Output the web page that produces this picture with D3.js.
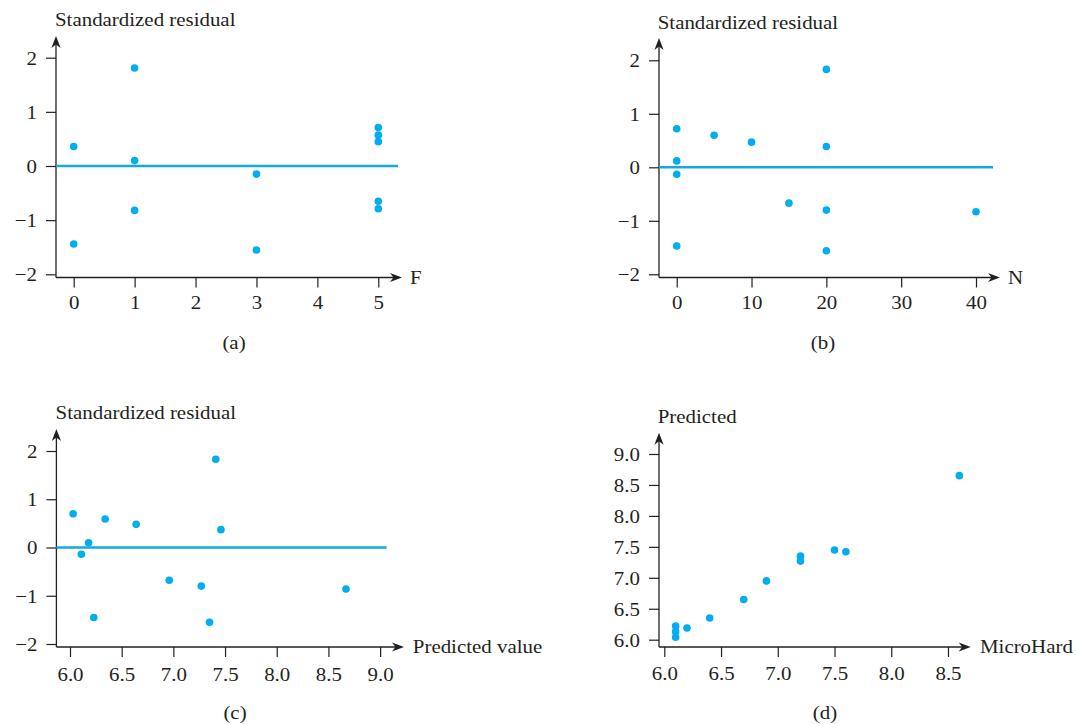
<!DOCTYPE html>
<html>
<head>
<meta charset="utf-8">
<script src="https://cdn.jsdelivr.net/npm/d3@7"></script>
<style>
  html, body { margin: 0; padding: 0; background: #ffffff; }
  svg { display: block; }
</style>
</head>
<body>
<svg id="chart" width="1077" height="724"></svg>
<script>
// ---------- data ----------
const panelAF        = [0, 0, 1, 1, 1, 3, 3, 5, 5, 5, 5, 5];
const panelAResidual = [0.36, -1.44, 1.81, 0.10, -0.82, -0.15, -1.55, 0.71, 0.57, 0.45, -0.65, -0.79];

const panelBN        = [0, 0, 0, 0, 5, 10, 15, 20, 20, 20, 20, 40];
const panelBResidual = [0.72, 0.12, -0.13, -1.47, 0.60, 0.47, -0.67, 1.83, 0.39, -0.80, -1.56, -0.83];

const panelCPredicted = [6.03, 6.11, 6.18, 6.23, 6.34, 6.64, 6.96, 7.27, 7.35, 7.41, 7.46, 8.67];
const panelCResidual  = [0.70, -0.14, 0.10, -1.45, 0.59, 0.48, -0.68, -0.80, -1.55, 1.83, 0.37, -0.86];

const panelDMicroHard = [6.1, 6.1, 6.1, 6.2, 6.4, 6.7, 6.9, 7.2, 7.2, 7.5, 7.6, 8.6];
const panelDPredicted = [6.22, 6.13, 6.04, 6.19, 6.35, 6.65, 6.95, 7.35, 7.27, 7.45, 7.42, 8.65];

const ticksA_X = [0, 1, 2, 3, 4, 5];
const ticksB_X = [0, 10, 20, 30, 40];
const ticksResidual = [-2, -1, 0, 1, 2];
const ticksC_X = [6.0, 6.5, 7.0, 7.5, 8.0, 8.5, 9.0];
const ticksD_X = [6.0, 6.5, 7.0, 7.5, 8.0, 8.5];
const ticksD_Y = [6.0, 6.5, 7.0, 7.5, 8.0, 8.5, 9.0];

const titles   = ["Standardized residual", "Standardized residual", "Standardized residual", "Predicted"];
const xLabels  = ["F", "N", "Predicted value", "MicroHard"];
const captions = ["(a)", "(b)", "(c)", "(d)"];

// ---------- style / layout ----------
const INK = "#231f20";
const DOT = "#00aeef";
const LINE = "#14a9e2";
const FONT = "'Liberation Serif', 'Times New Roman', serif";
const FS = 19;
const SX = 1.1;   // horizontal stretch of the reference typography

const svg = d3.select("#chart");

const panels = [
  { xs: panelAF, ys: panelAResidual, xDom: [0, 5], xRange: [73.7, 378.3], yDom: [-2, 2], yRange: [274.3, 57.7],
    corner: [56, 277.5], yTop: 36, xTip: 402, zeroEnd: 398, xTicks: ticksA_X, yTicks: ticksResidual,
    xFmt: d3.format("d"), yFmt: d3.format("d"), title: [55, 26], xlab: [410, 283.5], cap: [234, 349], xPad: 9, zero: true },
  { xs: panelBN, ys: panelBResidual, xDom: [0, 40], xRange: [676.7, 976], yDom: [-2, 2], yRange: [274.3, 60.3],
    corner: [659, 277.5], yTop: 38, xTip: 1000, zeroEnd: 993, xTicks: ticksB_X, yTicks: ticksResidual,
    xFmt: d3.format("d"), yFmt: d3.format("d"), title: [657.7, 29], xlab: [1008, 283.5], cap: [823, 349], xPad: 9, zero: true },
  { xs: panelCPredicted, ys: panelCResidual, xDom: [6, 9], xRange: [70, 380.1], yDom: [-2, 2], yRange: [644, 451],
    corner: [56.4, 647], yTop: 429, xTip: 404, zeroEnd: 386.6, xTicks: ticksC_X, yTicks: ticksResidual,
    xFmt: d3.format(".1f"), yFmt: d3.format("d"), title: [55.6, 418.5], xlab: [412.8, 653.3], cap: [235, 719], xPad: 11, zero: true },
  { xs: panelDMicroHard, ys: panelDPredicted, xDom: [6, 8.5], xRange: [664.3, 948], yDom: [6, 9], yRange: [639.7, 454],
    corner: [659, 647], yTop: 432.7, xTip: 970.7, zeroEnd: null, xTicks: ticksD_X, yTicks: ticksD_Y,
    xFmt: d3.format(".1f"), yFmt: d3.format(".1f"), title: [657.7, 423.3], xlab: [980, 653.3], cap: [825, 719], xPad: 10, zero: false }
];

function stretchedText(g, x, y, str, anchor) {
  return g.append("text")
    .attr("transform", `translate(${x},${y}) scale(${SX},1)`)
    .attr("text-anchor", anchor || "start")
    .attr("font-family", FONT)
    .attr("font-size", FS)
    .attr("fill", INK)
    .text(str);
}

function arrowHead(g, tipX, tipY, dir) {
  // dir: "right" or "up"; notched arrowhead
  const L = 12, W = 4.6, N = 8.5;
  let pts;
  if (dir === "right") {
    pts = [[tipX, tipY], [tipX - L, tipY - W], [tipX - N, tipY], [tipX - L, tipY + W]];
  } else {
    pts = [[tipX, tipY], [tipX - W, tipY + L], [tipX, tipY + N], [tipX + W, tipY + L]];
  }
  g.append("path").attr("d", "M" + pts.map(p => p.join(",")).join("L") + "Z").attr("fill", INK);
}

panels.forEach((p, i) => {
  const g = svg.append("g");
  const x = d3.scaleLinear().domain(p.xDom).range(p.xRange);
  const y = d3.scaleLinear().domain(p.yDom).range(p.yRange);
  const [cx, cy] = p.corner;

  // x ticks
  const xAxis = d3.axisBottom(x).tickValues(p.xTicks).tickSize(10).tickSizeOuter(0).tickFormat(p.xFmt);
  const gx = g.append("g").attr("transform", `translate(0,${cy})`).call(xAxis);
  gx.select(".domain").remove();
  gx.selectAll(".tick line").attr("stroke", INK).attr("stroke-width", 1.2);
  gx.selectAll(".tick text")
    .attr("y", null).attr("dy", null)
    .attr("transform", `translate(0,${10 + p.xPad + FS * 0.68}) scale(${SX},1)`)
    .attr("font-family", FONT).attr("font-size", FS).attr("fill", INK);

  // y ticks
  const yAxis = d3.axisLeft(y).tickValues(p.yTicks).tickSize(10).tickSizeOuter(0).tickFormat(p.yFmt);
  const gy = g.append("g").attr("transform", `translate(${cx},0)`).call(yAxis);
  gy.select(".domain").remove();
  gy.selectAll(".tick line").attr("stroke", INK).attr("stroke-width", 1.2);
  gy.selectAll(".tick text")
    .attr("x", null).attr("dy", "0.34em")
    .attr("transform", `translate(-19,0) scale(${SX},1)`)
    .attr("font-family", FONT).attr("font-size", FS).attr("fill", INK);

  // axis lines with arrows
  g.append("line").attr("x1", cx).attr("y1", cy).attr("x2", p.xTip - 6).attr("y2", cy)
    .attr("stroke", INK).attr("stroke-width", 1.3);
  g.append("line").attr("x1", cx).attr("y1", cy).attr("x2", cx).attr("y2", p.yTop + 6)
    .attr("stroke", INK).attr("stroke-width", 1.3);
  arrowHead(g, p.xTip, cy, "right");
  arrowHead(g, cx, p.yTop, "up");

  // zero reference line
  if (p.zero) {
    g.append("line").attr("x1", cx).attr("x2", p.zeroEnd).attr("y1", y(0)).attr("y2", y(0))
      .attr("stroke", LINE).attr("stroke-width", 2.6);
  }

  // points
  g.selectAll("circle.pt").data(p.xs.map((v, k) => [v, p.ys[k]])).join("circle")
    .attr("class", "pt")
    .attr("cx", d => x(d[0])).attr("cy", d => y(d[1]))
    .attr("r", 3.8).attr("fill", DOT);

  // labels
  stretchedText(g, p.title[0], p.title[1], titles[i], "start");
  stretchedText(g, p.xlab[0], p.xlab[1], xLabels[i], "start");
  stretchedText(g, p.cap[0], p.cap[1], captions[i], "middle");
});
</script>
</body>
</html>
